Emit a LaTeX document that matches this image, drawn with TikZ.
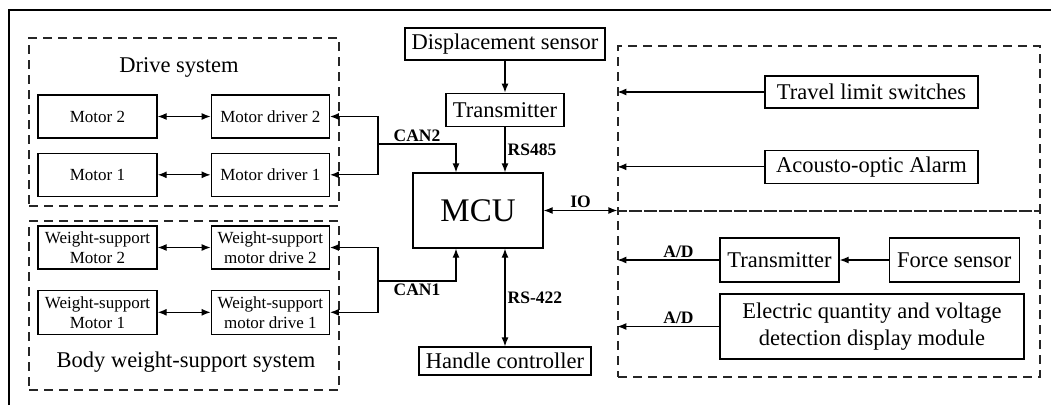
\documentclass[tikz,border=0pt]{standalone}
\usepackage{fontspec}
\setmainfont{Liberation Serif}
\usetikzlibrary{arrows.meta, positioning}
\tikzstyle{block} = [
    rectangle,
    draw=black,
    line width=1.3pt,
    inner sep=0pt,
    align=center,
    font=\fontsize{17}{20}\selectfont
]
\tikzstyle{bigblock} = [
    block,
    font=\fontsize{22.5}{27}\selectfont
]
\tikzstyle{group} = [
    rectangle,
    draw=black!85,
    line width=1.3pt,
    dash pattern=on 9pt off 6pt,
    inner sep=0pt
]
\tikzstyle{title} = [font=\fontsize{22.5}{27}\selectfont]
\tikzstyle{bus} = [font=\fontsize{17.5}{19}\selectfont\bfseries, inner sep=2pt]
\tikzstyle{arrow} = [line width=1.3pt,-{Latex[length=9pt,width=7pt]}]
\tikzstyle{dblarrow} = [line width=1.3pt,{Latex[length=9pt,width=7pt]}-{Latex[length=9pt,width=7pt]}]
\begin{document}
\begin{tikzpicture}[x=1pt, y=-1pt]
\useasboundingbox (0,0) rectangle (1051,405);
\draw [line width=1.8pt] (9,405) -- (9,10) -- (1051,10);

\node (drivebox) [group, minimum width=310pt, minimum height=168pt] at (184,122) {};
\node (drivetitle) [title] at (179,67) {Drive system};

\node (motor2) [block, minimum width=119pt, minimum height=43pt] at (97.5,116.5)
{Motor 2};

\node (motor1) [block, minimum width=119pt, minimum height=43pt, below=14pt of motor2]
{Motor 1};

\node (mdriver2) [block, minimum width=118pt, minimum height=43pt, right=53pt of motor2]
{Motor driver 2};

\node (mdriver1) [block, minimum width=118pt, minimum height=43pt, right=53pt of motor1]
{Motor driver 1};

\node (bodybox) [group, minimum width=310pt, minimum height=169pt] at (184,305.5) {};
\node (bodytitle) [title] at (186,362) {Body weight-support system};

\node (wsmotor2) [block, minimum width=119pt, minimum height=43pt] at (97.5,247.5)
{Weight-support\\Motor 2};

\node (wsmotor1) [block, minimum width=119pt, minimum height=44pt, below=20pt of wsmotor2]
{Weight-support\\Motor 1};

\node (wsdrive2) [block, minimum width=118pt, minimum height=43pt, right=53pt of wsmotor2]
{Weight-support\\motor drive 2};

\node (wsdrive1) [block, minimum width=118pt, minimum height=44pt, right=53pt of wsmotor1]
{Weight-support\\motor drive 1};

\node (dispsensor) [bigblock, minimum width=200pt, minimum height=32pt] at (505,44)
{Displacement sensor};

\node (trans1) [bigblock, minimum width=118pt, minimum height=33pt, below=32pt of dispsensor]
{Transmitter};

\node (mcu) [block, minimum width=130pt, minimum height=75pt,
    font=\fontsize{33}{36}\selectfont] at (478,210.5)
{MCU};

\node (handle) [bigblock, minimum width=172pt, minimum height=28pt] at (505,361)
{Handle controller};

\node (rtop) [group, minimum width=422pt, minimum height=165pt] at (829,128.5) {};
\node (rbot) [group, minimum width=422pt, minimum height=166pt] at (829,294) {};

\node (travel) [bigblock, minimum width=213pt, minimum height=32pt] at (871.5,92)
{Travel limit switches};

\node (alarm) [bigblock, minimum width=213pt, minimum height=33pt, below=41pt of travel]
{Acousto-optic Alarm};

\node (trans2) [bigblock, minimum width=119pt, minimum height=44pt] at (779.5,260)
{Transmitter};

\node (force) [bigblock, minimum width=130pt, minimum height=44pt, right=49pt of trans2]
{Force sensor};

\node (elec) [bigblock, minimum width=304pt, minimum height=65pt] at (872,326.5)
{Electric quantity and voltage\\detection display module};

\coordinate (bus2) at (378,144);
\coordinate (bus1) at (378,281);

\draw [dblarrow] (motor2) -- (mdriver2);
\draw [dblarrow] (motor1) -- (mdriver1);
\draw [dblarrow] (wsmotor2) -- (wsdrive2);
\draw [dblarrow] (wsmotor1) -- (wsdrive1);

\draw [arrow] (bus2) |- (mdriver2.east);
\draw [arrow] (bus2) |- (mdriver1.east);
\draw [arrow] (bus2) -| node[bus, pos=0.25, above]{CAN2} ([xshift=-22pt]mcu.north);

\draw [arrow] (bus1) |- (wsdrive2.east);
\draw [arrow] (bus1) |- (wsdrive1.east);
\draw [arrow] (bus1) -| node[bus, pos=0.25, below]{CAN1} ([xshift=-22pt]mcu.south);

\draw [arrow] (dispsensor) -- (trans1);
\draw [arrow] (trans1.south) -- node[bus, right]{RS485} ([xshift=27pt]mcu.north);
\draw [dblarrow] ([xshift=27pt]mcu.south) -- node[bus, right]{RS-422} (handle);
\draw [dblarrow] (mcu.east) -- node[bus, above]{IO} (mcu.east -| rtop.west);

\draw [arrow] (travel) -- (travel.west -| rtop.west);
\draw [arrow] (alarm) -- (alarm.west -| rtop.west);
\draw [arrow] (force) -- (trans2);
\draw [arrow] (trans2) -- node[bus, above, pos=0.4]{A/D} (trans2.west -| rbot.west);
\draw [arrow] (elec) -- node[bus, above, pos=0.4]{A/D} (elec.west -| rbot.west);

\end{tikzpicture}
\end{document}
